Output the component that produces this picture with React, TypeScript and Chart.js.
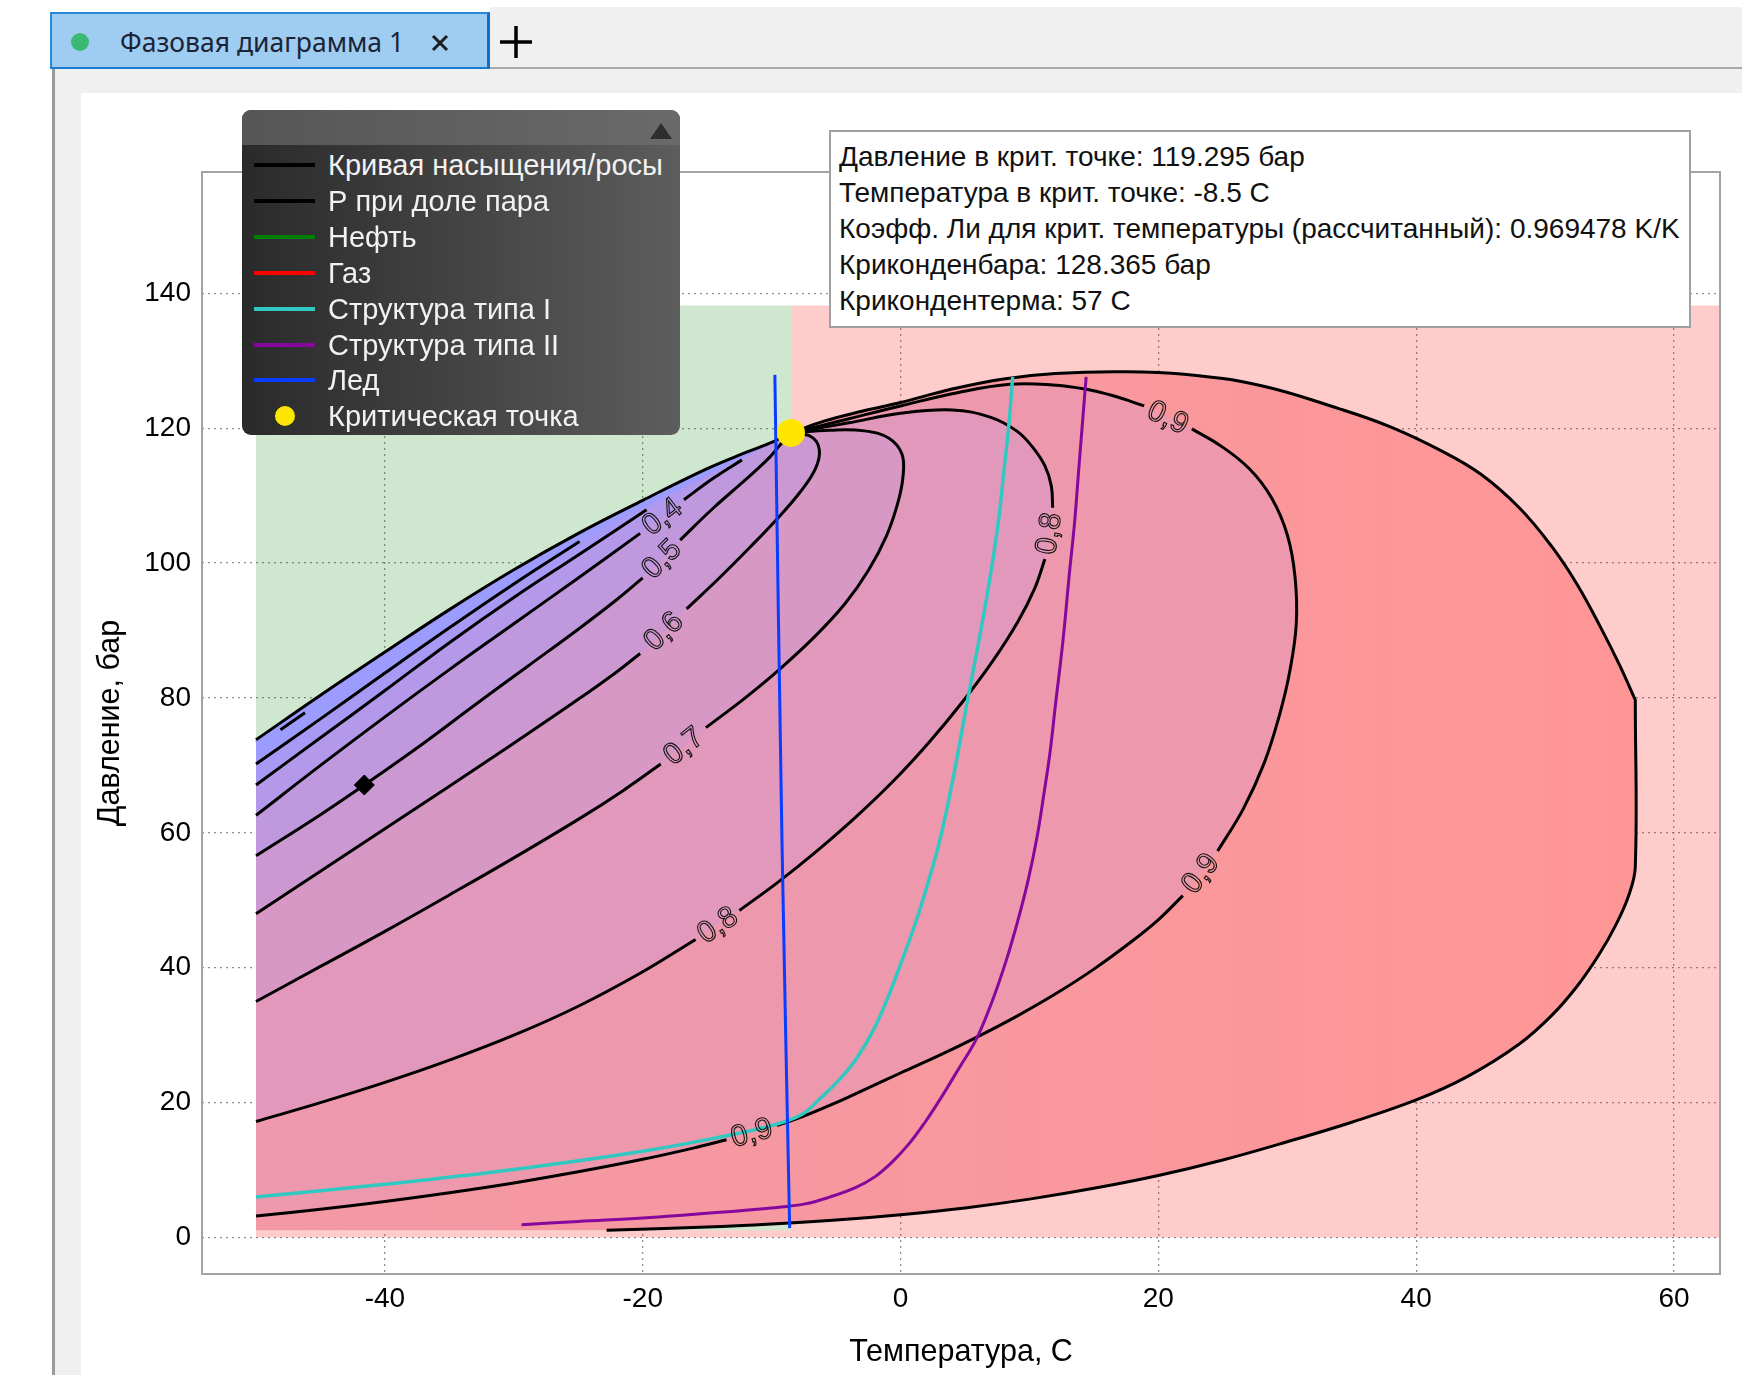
import React, { useEffect, useRef } from 'react';
import { Chart, registerables } from 'chart.js';

Chart.register(...registerables);

type P = [number, number];
type Pt = P | null;

// Critical point and envelope extremes (°C, bar)
const CRIT_T = -8.5;
const CRIT_P = 119.295;
const LEE_COEF = 0.969478;
const CRICONDENBAR = 128.365;
const CRICONDENTHERM = 57;

// Saturation envelope: bubble branch from the left edge up to the critical point
const bubbleCurve: Pt[] = [
  [-50, 73.8], [-45, 80.4], [-40, 86.8], [-35, 93.1], [-30, 99.0], [-25, 104.4],
  [-20, 109.3], [-15, 114.0], [-12, 116.4], [-10, 117.9], [CRIT_T, CRIT_P],
];

// Dew branch from the critical point around the cricondenbar / cricondentherm.
// The top of the vertical cricondentherm section is repeated so the smoothed
// line keeps a sharp corner there.
const dewCurve: Pt[] = [
  [CRIT_T, CRIT_P], [-6, 121.0], [-3, 122.5], [0, 123.8], [4, 125.8], [8, 127.3],
  [12, 128.1], [17, CRICONDENBAR], [22, 128.0], [28, 126.3], [34, 122.9], [38, 120.2],
  [42, 116.6], [45, 113.2], [48, 108.2], [50.5, 102.5], [52.5, 96.8], [54.3, 90.5],
  [55.8, 84.8], [CRICONDENTHERM, 79.7], [CRICONDENTHERM, 79.7], [CRICONDENTHERM, 55.0],
  [56.5, 50.8], [55.5, 46.4], [54.2, 42.0], [52.5, 37.3], [50.5, 32.9],
  [48, 28.7], [44, 23.9], [40, 20.4], [35, 17.1], [30, 14.2], [25, 11.5], [20, 9.2], [15, 7.3],
  [10, 5.7], [5, 4.4], [0, 3.4], [-5, 2.6], [-10, 2.0], [-15, 1.55], [-22.8, 1.1],
];

// Lower pressure limit of the two-phase fill on the left edge
const envelopeBaseP = 1.1;

// Pressure at constant vapour fraction; null marks the break for the curve label
const vf01: Pt[] = [[-48.1, 75.3], [-46.2, 77.8]];
const vf02: Pt[] = [[-50, 70.2], [-45, 76.9], [-40, 83.7], [-35, 90.4], [-30, 96.9], [-24.9, 103.2]];
const vf03: Pt[] = [[-50, 67.1], [-45, 74.1], [-40, 81.1], [-35, 88.2], [-30, 94.9], [-25, 101.2], [-19.7, 107.9]];
const vf04: Pt[] = [
  [-50, 62.6], [-45, 70.0], [-40, 77.2], [-35, 84.2], [-30, 91.0], [-25, 97.8], [-20.2, 104.4],
  null, [-16.8, 109.4], [-14.5, 112.6], [-12.3, 115.3],
];
const vf05: Pt[] = [
  [-50, 56.6], [-45, 62.7], [-41.6, 67.1], [-37, 73.3], [-33, 79.0], [-29, 84.6], [-25, 90.2],
  [-22, 94.6], [-20, 97.8], null, [-17.1, 103.4], [-14.5, 108.2], [-12, 112.4], [-10.2, 115.6],
  [-9.4, 117.4], [CRIT_T, CRIT_P],
];
const vf06: Pt[] = [
  [-50, 48.0], [-45, 54.3], [-40, 60.6], [-35, 66.9], [-30, 73.3], [-25, 79.8], [-22, 83.9],
  [-20.2, 86.6], null, [-16.6, 93.2], [-14, 97.9], [-11.7, 102.3], [-9.6, 106.5], [-7.8, 110.5],
  [-6.6, 114.0], [-6.3, 116.8], [-6.9, 118.7], [CRIT_T, CRIT_P],
];
const vf07: Pt[] = [
  [-50, 35.0], [-45, 40.2], [-40, 45.4], [-35, 50.8], [-30, 56.3], [-25, 62.0], [-21.5, 66.3],
  [-18.6, 70.2], null, [-15.1, 75.6], [-12, 80.1], [-9.3, 84.4], [-6.6, 89.2], [-4.3, 94.0],
  [-2.5, 98.9], [-1.1, 104.0], [-0.2, 109.0], [0.2, 113.0], [0.1, 116.2], [-0.9, 118.5],
  [-2.8, 119.6], [-5.5, 119.7], [CRIT_T, CRIT_P],
];
const vf08: Pt[] = [
  [-50, 17.2], [-45, 20.0], [-40, 23.0], [-35, 26.3], [-30, 30.0], [-25, 34.3], [-20.1, 39.3],
  [-15.9, 44.2], null, [-12.5, 48.5], [-9.5, 52.7], [-6.5, 57.3], [-3.5, 62.3], [-0.5, 67.8],
  [2.2, 73.4], [4.8, 79.4], [7.2, 85.6], [9.1, 91.3], [10.4, 96.2], [11.2, 100.6], null,
  [11.8, 108.2], [11.7, 111.4], [11.2, 114.4], [10.2, 117.3], [9.0, 119.6], [7.0, 121.6],
  [4.0, 122.7], [0, 122.2], [-4, 120.8], [CRIT_T, CRIT_P],
];
const vf09: Pt[] = [
  [-50, 3.2], [-45, 4.2], [-40, 5.35], [-35, 6.65], [-30, 8.1], [-25, 9.75], [-20, 11.6],
  [-16, 13.3], [-13.5, 14.5], null, [-9.6, 16.6], [-7.5, 18.0], [-5, 20.0], [-2.5, 22.2],
  [0, 24.4], [3, 27.0], [6, 29.8], [9, 32.8], [12, 36.1], [15, 39.8], [18, 44.0], [20.1, 47.3],
  [21.9, 50.7], null, [24.6, 57.3], [26.6, 63.6], [28.2, 70.3], [29.4, 77.5], [30.2, 84],
  [30.7, 91], [30.6, 98], [30.0, 104.2], [28.8, 109.6], [27.1, 113.9], [24.9, 117.3],
  [22.6, 119.9], null, [18.9, 123.3], [16.5, 124.8], [14.3, 125.8], [11.8, 126.4], [8.5, 126.5],
  [4.5, 125.3], [0, 123.3], [-4, 121.4], [CRIT_T, CRIT_P],
];

const vaporFractions = [0.1, 0.2, 0.3, 0.4, 0.5, 0.6, 0.7, 0.8, 0.9];
const fractionCurves: Pt[][] = [vf01, vf02, vf03, vf04, vf05, vf06, vf07, vf08, vf09];
// Fractions whose curves carry a printed label
const labelledFractions = [0.4, 0.5, 0.6, 0.7, 0.8, 0.9];

// Hydrate formation curves and ice line
const hydrateI: Pt[] = [
  [-50, 6.0], [-40, 7.9], [-30, 10.1], [-20, 12.8], [-14, 14.9], [-10, 16.6], [-7.7, 18.2],
  [-6.3, 20.5], [-4.8, 23.3], [-3.4, 26.6], [-2.1, 30.8], [-1.0, 35.5], [0, 40.5], [1.1, 46.3],
  [2.1, 52.4], [3.1, 59.3], [4.1, 68.3], [5.2, 79.7], [6.2, 89.7], [7.0, 98.5], [7.6, 106.3],
  [8.0, 113.3], [8.4, 120.5], [8.7, 127.6],
];
const hydrateII: Pt[] = [
  [-29.4, 1.9], [-25, 2.4], [-20, 2.9], [-15, 3.6], [-10, 4.4], [-7.4, 5.0], [-5.5, 6.0],
  [-3.5, 7.4], [-2, 9.0], [-0.6, 11.3], [0.7, 14.0], [1.9, 17.1], [3.1, 20.6], [4.5, 25],
  [5.9, 29.5], [7.1, 35], [8.2, 41.1], [9.1, 47], [9.9, 53], [10.6, 59.5], [11.1, 65.5],
  [11.6, 72], [12.0, 78.7], [12.6, 88.5], [13.1, 98.5], [13.5, 106], [13.8, 113.3], [14.1, 120.5],
  [14.4, 127.6],
];
const iceLine: Pt[] = [[-9.75, 127.9], [-9.2, 59], [-8.6, 1.4]];

// Current operating point on the chart
const operatingPoint: P = [-41.6, 67.1];

// Phase regions: oil left of the critical temperature, gas around it
const oilRegionT: P = [-50, CRIT_T];
const oilRegionP: P = [1.1, 138.2];
const gasRegionT: P = [-50, 63.6];
const gasRegionP: P = [0, 138.2];

const legendLabels = [
  'Кривая насыщения/росы',
  'Р при доле пара',
  'Нефть',
  'Газ',
  'Структура типа I',
  'Структура типа II',
  'Лед',
  'Критическая точка',
];

const infoLines = [
  `Давление в крит. точке: ${CRIT_P} бар`,
  `Температура в крит. точке: ${CRIT_T} C`,
  `Коэфф. Ли для крит. температуры (рассчитанный): ${LEE_COEF} K/K`,
  `Криконденбара: ${CRICONDENBAR} бар`,
  `Крикондентерма: ${CRICONDENTHERM} C`,
];

// ---- styling ----
const FONT = '"Liberation Sans", Arial, sans-serif';
const COLOR_OIL = 'rgba(0,128,0,0.19)';
const COLOR_GAS = 'rgba(255,0,0,0.2)';
const COLOR_HYD1 = '#30c9c2';
const COLOR_HYD2 = '#85079b';
const COLOR_ICE = '#0a3cff';
const COLOR_CRIT = '#ffe600';
const bandColors: Record<string, string> = {
  '0.2': 'rgb(156,156,255)',
  '0.3': 'rgb(168,153,244)',
  '0.4': 'rgb(180,152,234)',
  '0.5': 'rgb(192,152,222)',
  '0.6': 'rgb(204,152,210)',
  '0.7': 'rgb(215,152,198)',
  '0.8': 'rgb(226,152,186)',
  '0.9': 'rgb(237,152,172)',
};
const legendSwatches = ['#000', '#000', '#008000', '#ff0000', COLOR_HYD1, COLOR_HYD2, COLOR_ICE, 'dot'];

const solid = (pts: Pt[]): P[] => pts.filter((p): p is P => p !== null);
const toXY = (pts: Pt[]) => pts.map((p) => (p ? { x: p[0], y: p[1] } : { x: null, y: null }));
const rect = (t: P, p: P): P[] => [[t[0], p[0]], [t[1], p[0]], [t[1], p[1]], [t[0], p[1]]];

// Gas area: the full band minus the oil rectangle on its upper left
const gasPolygon: P[] = [
  [gasRegionT[0], gasRegionP[0]], [gasRegionT[1], gasRegionP[0]], [gasRegionT[1], gasRegionP[1]],
  [oilRegionT[1], gasRegionP[1]], [oilRegionT[1], oilRegionP[0]], [oilRegionT[0], oilRegionP[0]],
];

// Region enclosed between a vapour-fraction curve and the bubble branch
function bandPolygon(curve: Pt[]): P[] {
  const path = solid(curve);
  const last = path[path.length - 1];
  if (last[0] !== CRIT_T || last[1] !== CRIT_P) path.push([CRIT_T, CRIT_P]);
  const back = solid(bubbleCurve).slice(0, -1).reverse();
  return [...path, ...back];
}

// Whole two-phase area; the extra vertex keeps the left edge straight under smoothing
const bubbleSolid = solid(bubbleCurve);
const envelopePolygon: P[] = [
  [bubbleSolid[0][0], envelopeBaseP],
  [bubbleSolid[0][0], bubbleSolid[0][1] - 0.6],
  ...bubbleSolid,
  ...solid(dewCurve).slice(1),
];

const TENSION = 0.4;

function lineSet(label: string, pts: Pt[], color: string, width: number, order: number) {
  return {
    label,
    data: toXY(pts),
    showLine: true,
    borderColor: color,
    borderWidth: width,
    pointRadius: 0,
    fill: false,
    tension: TENSION,
    spanGaps: false,
    order,
  };
}

function areaSet(label: string, pts: P[], bg: any, order: number, tension: number) {
  return {
    label,
    data: toXY(pts),
    showLine: true,
    borderWidth: 0,
    borderColor: 'rgba(0,0,0,0)',
    backgroundColor: bg,
    pointRadius: 0,
    fill: 'shape',
    tension,
    order,
  };
}

const contourLabelPlugin = {
  id: 'contourLabels',
  afterDatasetsDraw(chart: any) {
    const { ctx, scales } = chart;
    const xs = scales.x;
    const ys = scales.y;
    ctx.save();
    ctx.font = `30px ${FONT}`;
    ctx.textAlign = 'center';
    ctx.textBaseline = 'middle';
    ctx.strokeStyle = '#111';
    ctx.lineWidth = 1.1;
    fractionCurves.forEach((curve, i) => {
      const f = vaporFractions[i];
      if (!labelledFractions.includes(f)) return;
      const text = f.toFixed(1).replace('.', ',');
      curve.forEach((p, j) => {
        if (p !== null || j === 0 || j === curve.length - 1) return;
        const a = curve[j - 1] as P;
        const b = curve[j + 1] as P;
        const ax = xs.getPixelForValue(a[0]);
        const ay = ys.getPixelForValue(a[1]);
        const bx = xs.getPixelForValue(b[0]);
        const by = ys.getPixelForValue(b[1]);
        let ang = Math.atan2(by - ay, bx - ax);
        if (ang > Math.PI / 2) ang -= Math.PI;
        if (ang < -Math.PI / 2) ang += Math.PI;
        ctx.save();
        ctx.translate((ax + bx) / 2, (ay + by) / 2);
        ctx.rotate(ang);
        ctx.strokeText(text, 0, 1);
        ctx.restore();
      });
    });
    ctx.restore();
  },
};

const framePlugin = {
  id: 'plotFrame',
  afterDraw(chart: any) {
    const { ctx, chartArea: a } = chart;
    ctx.save();
    ctx.strokeStyle = '#a3a3a3';
    ctx.lineWidth = 2;
    ctx.strokeRect(a.left, a.top, a.right - a.left, a.bottom - a.top);
    ctx.restore();
  },
};

function PhaseChart() {
  const ref = useRef<HTMLCanvasElement>(null);

  useEffect(() => {
    const envelopeFill = (c: any) => {
      const chart = c.chart;
      if (!chart.chartArea) return bandColors['0.9'];
      const xs = chart.scales.x;
      const g = chart.ctx.createLinearGradient(xs.getPixelForValue(-50), 0, xs.getPixelForValue(CRICONDENTHERM), 0);
      g.addColorStop(0, 'rgb(243,152,164)');
      g.addColorStop(0.55, 'rgb(248,152,158)');
      g.addColorStop(1, 'rgb(255,150,150)');
      return g;
    };

    const bands = fractionCurves
      .map((curve, i) => ({ f: vaporFractions[i], curve }))
      .filter((b) => bandColors[b.f.toFixed(1)])
      .map((b) => areaSet(`band ${b.f}`, bandPolygon(b.curve), bandColors[b.f.toFixed(1)], 80 + Math.round(b.f * 10), TENSION));

    const datasets: any[] = [
      areaSet('Газ', gasPolygon, COLOR_GAS, 100, 0),
      areaSet('Нефть', rect(oilRegionT, oilRegionP), COLOR_OIL, 99, 0),
      areaSet('envelope', envelopePolygon, envelopeFill, 95, TENSION),
      ...bands,
      ...fractionCurves.map((c, i) => lineSet(`V=${vaporFractions[i]}`, c, '#000', 3, 20)),
      lineSet('bubble', bubbleCurve, '#000', 3, 19),
      lineSet('dew', dewCurve, '#000', 3, 19),
      lineSet('Структура типа I', hydrateI, COLOR_HYD1, 3.5, 15),
      lineSet('Структура типа II', hydrateII, COLOR_HYD2, 3, 14),
      lineSet('Лед', iceLine, COLOR_ICE, 3, 10),
      {
        label: 'point',
        data: [{ x: operatingPoint[0], y: operatingPoint[1] }],
        pointStyle: 'rectRot',
        pointRadius: 10,
        backgroundColor: '#000',
        borderColor: '#000',
        showLine: false,
        order: 3,
      },
      {
        label: 'Критическая точка',
        data: [{ x: CRIT_T, y: CRIT_P }],
        pointRadius: 14,
        backgroundColor: COLOR_CRIT,
        borderWidth: 0,
        showLine: false,
        order: 1,
      },
    ];

    const chart = new Chart(ref.current as HTMLCanvasElement, {
      type: 'scatter',
      data: { datasets },
      options: {
        responsive: false,
        animation: false,
        events: [],
        layout: { padding: { top: 79, right: 22, left: 0, bottom: 0 } },
        plugins: { legend: { display: false }, tooltip: { enabled: false } },
        scales: {
          x: {
            type: 'linear',
            min: -54.19,
            max: 63.57,
            z: 1,
            afterFit: (s: any) => { s.height = 101; },
            ticks: { stepSize: 20, includeBounds: false, color: '#000', padding: 8, font: { family: FONT, size: 28 } },
            grid: { color: '#8f8f8f', lineWidth: 1.3, drawTicks: false },
            border: { display: false, dash: [2, 4] },
            title: {
              display: true,
              text: 'Температура, С',
              color: '#000',
              font: { family: FONT, size: 30.5 },
              padding: { top: 0, bottom: 4 },
            },
          },
          y: {
            type: 'linear',
            min: -5.4,
            max: 157.98,
            z: 1,
            afterFit: (s: any) => { s.width = 121; },
            ticks: { stepSize: 20, includeBounds: false, color: '#000', padding: 11, font: { family: FONT, size: 28 } },
            grid: { color: '#8f8f8f', lineWidth: 1.3, drawTicks: false },
            border: { display: false, dash: [2, 4] },
            title: {
              display: true,
              text: 'Давление, бар',
              color: '#000',
              font: { family: FONT, size: 30.5 },
              padding: { top: 11, bottom: 0 },
            },
          },
        },
      } as any,
      plugins: [contourLabelPlugin, framePlugin],
    });
    return () => chart.destroy();
  }, []);

  return (
    <canvas
      ref={ref}
      width={1661}
      height={1282}
      style={{ position: 'absolute', left: 81, top: 93, width: 1661, height: 1282 }}
    />
  );
}

function Legend() {
  return (
    <div
      style={{
        position: 'absolute', left: 242, top: 110, width: 438, height: 325, borderRadius: 9,
        overflow: 'hidden', background: 'linear-gradient(to right, #2a2a2a, #5d5d5d)',
        fontFamily: FONT, fontSize: 29, color: '#f2f2f2',
      }}
    >
      <div style={{ position: 'absolute', left: 0, top: 0, right: 0, height: 35, background: 'linear-gradient(to right, #565656, #6a6a6a)' }} />
      <div
        style={{
          position: 'absolute', left: 408, top: 13, width: 0, height: 0,
          borderLeft: '11px solid transparent', borderRight: '11px solid transparent', borderBottom: '16px solid #2e2e2e',
        }}
      />
      {legendLabels.map((label, i) => {
        const cy = 55 + i * 35.9;
        const sw = legendSwatches[i];
        return (
          <React.Fragment key={label}>
            {sw === 'dot' ? (
              <div style={{ position: 'absolute', left: 33, top: cy - 10, width: 20, height: 20, borderRadius: 10, background: COLOR_CRIT }} />
            ) : (
              <div style={{ position: 'absolute', left: 12, top: cy - 2, width: 61, height: 4, background: sw }} />
            )}
            <div style={{ position: 'absolute', left: 86, top: cy - 17, height: 34, lineHeight: '34px', whiteSpace: 'nowrap' }}>{label}</div>
          </React.Fragment>
        );
      })}
    </div>
  );
}

function InfoBox() {
  return (
    <div
      style={{
        position: 'absolute', left: 829, top: 130, width: 858, height: 194, background: '#fff',
        border: '2px solid #a0a0a0', fontFamily: FONT, fontSize: 28, color: '#111',
      }}
    >
      {infoLines.map((t, i) => (
        <div key={i} style={{ position: 'absolute', left: 8, top: 7 + i * 36.1, height: 36, lineHeight: '36px', whiteSpace: 'nowrap' }}>{t}</div>
      ))}
    </div>
  );
}

export default function App() {
  return (
    <div style={{ position: 'fixed', left: 0, top: 0, width: 1742, height: 1375, background: '#fff', overflow: 'hidden' }}>
      {/* tab strip */}
      <div style={{ position: 'absolute', left: 490, top: 7, right: 0, height: 60, background: '#f0f0f0' }} />
      <div style={{ position: 'absolute', left: 490, top: 67, right: 0, height: 2, background: '#a9a9a9' }} />
      <div
        style={{
          position: 'absolute', left: 50, top: 12, width: 435, height: 53, background: '#9ecdf1',
          borderTop: '2px solid #2a86da', borderLeft: '2px solid #2a86da', borderRight: '3px solid #0c6fcf',
          borderBottom: '2px solid #1a7ad4',
        }}
      />
      <div style={{ position: 'absolute', left: 71, top: 33, width: 18, height: 18, borderRadius: 9, background: '#3bb872' }} />
      <div style={{ position: 'absolute', left: 120, top: 24, height: 36, lineHeight: '36px', fontFamily: '"Noto Sans", sans-serif', fontSize: 26.5, color: '#1b2436', whiteSpace: 'nowrap' }}>
        Фазовая диаграмма 1
      </div>
      <svg style={{ position: 'absolute', left: 431, top: 34 }} width={18} height={18}>
        <line x1={2} y1={2} x2={16} y2={16} stroke="#1e1e1e" strokeWidth={3} />
        <line x1={16} y1={2} x2={2} y2={16} stroke="#1e1e1e" strokeWidth={3} />
      </svg>
      <svg style={{ position: 'absolute', left: 499, top: 25 }} width={34} height={34}>
        <line x1={17} y1={1} x2={17} y2={33} stroke="#000" strokeWidth={3.5} />
        <line x1={1} y1={17} x2={33} y2={17} stroke="#000" strokeWidth={3.5} />
      </svg>
      {/* window body */}
      <div style={{ position: 'absolute', left: 52, top: 69, width: 3, bottom: 0, background: '#9a9a9a' }} />
      <div style={{ position: 'absolute', left: 55, top: 69, right: 0, bottom: 0, background: '#f0f0f0' }} />
      <div style={{ position: 'absolute', left: 81, top: 93, right: 0, bottom: 0, background: '#fff' }} />
      <PhaseChart />
      <Legend />
      <InfoBox />
    </div>
  );
}
